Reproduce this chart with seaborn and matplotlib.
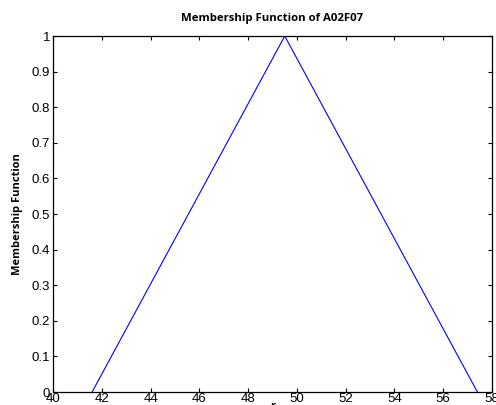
import numpy as np
import pandas as pd
import matplotlib
matplotlib.use("Agg")
import matplotlib.pyplot as plt
import seaborn as sns

# triangular membership function breakpoints
r_points = [41.6, 49.5, 57.4]
mu_points = [0.0, 1.0, 0.0]
x_ticks = [40, 42, 44, 46, 48, 50, 52, 54, 56, 58]
y_ticks = [0, 0.1, 0.2, 0.3, 0.4, 0.5, 0.6, 0.7, 0.8, 0.9, 1]
y_labels = ['0', '0.1', '0.2', '0.3', '0.4', '0.5', '0.6', '0.7', '0.8', '0.9', '1']

sns.set_style("white")
plt.rcParams['font.family'] = ['Liberation Sans', 'DejaVu Sans']
plt.rcParams['text.color'] = 'black'

df = pd.DataFrame({'r': r_points, 'mu': mu_points})

fig = plt.figure(figsize=(4.96, 4.05), dpi=100)
ax = fig.add_axes([0.107, 0.032, 0.885, 0.879])
sns.lineplot(data=df, x='r', y='mu', color='blue', linewidth=0.8, ax=ax)

ax.set_xlim(40, 58)
ax.set_ylim(0, 1)
ax.set_xticks(x_ticks)
ax.set_yticks(y_ticks)
ax.set_yticklabels(y_labels)
ax.tick_params(direction='in', length=3, width=0.8, labelsize=9.5, pad=2,
               top=True, right=True, bottom=True, left=True,
               colors='black', labelcolor='black')
ax.tick_params(axis='x', pad=0.5)
for s in ax.spines.values():
    s.set_visible(True)
    s.set_color('black')
    s.set_linewidth(0.9)

bold = ['Open Sans', 'DejaVu Sans']
ax.set_title('Membership Function of A02F07', fontsize=8.2, fontweight='bold',
             family=bold, color='black', pad=11)
ax.set_ylabel('Membership Function', fontsize=8, fontweight='bold',
              family=bold, color='black', labelpad=6)
ax.set_xlabel('r', fontsize=8, fontweight='bold',
              family=bold, color='black', labelpad=-3)

fig.savefig('out.png', dpi=100)
